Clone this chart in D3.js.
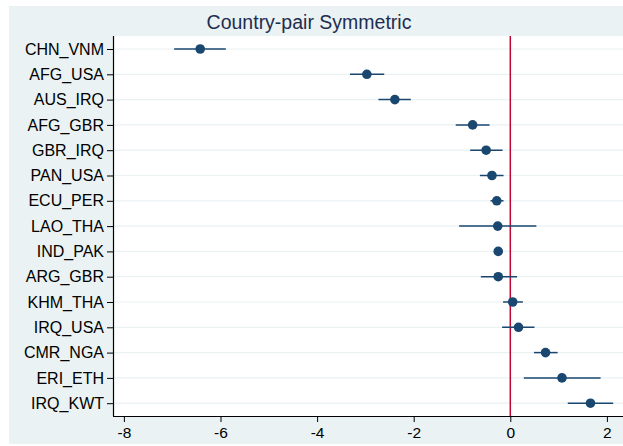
<!DOCTYPE html>
<html>
<head>
<meta charset="utf-8">
<script src="https://cdn.jsdelivr.net/npm/d3@7"></script>
<style>
  body { margin: 0; background: #fff; }
  svg { display: block; font-family: "Liberation Sans", Arial, sans-serif; }
</style>
</head>
<body>
<div class="chart"></div>
<script>
const pairs = ['CHN_VNM', 'AFG_USA', 'AUS_IRQ', 'AFG_GBR', 'GBR_IRQ', 'PAN_USA', 'ECU_PER',
  'LAO_THA', 'IND_PAK', 'ARG_GBR', 'KHM_THA', 'IRQ_USA', 'CMR_NGA', 'ERI_ETH', 'IRQ_KWT'];
const estimate = [-6.42, -2.97, -2.39, -0.78, -0.50, -0.38, -0.28, -0.26, -0.25, -0.25, 0.05, 0.17, 0.73, 1.07, 1.66];
const ciLow = [-6.96, -3.32, -2.73, -1.13, -0.83, -0.63, -0.41, -1.06, -0.33, -0.61, -0.15, -0.17, 0.49, 0.28, 1.19];
const ciHigh = [-5.89, -2.61, -2.06, -0.43, -0.16, -0.14, -0.14, 0.54, -0.18, 0.14, 0.26, 0.50, 0.98, 1.87, 2.13];
const xTicks = [-8, -6, -4, -2, 0, 2];

const W = 623, H = 446;
const margin = {top: 36, right: 0, bottom: 30, left: 113};
const w = W - margin.left - margin.right;
const h = H - margin.top - margin.bottom;

const rows = pairs.map((p, i) => ({pair: p, est: estimate[i], lo: ciLow[i], hi: ciHigh[i]}));

const svg = d3.select('.chart').append('svg')
  .attr('width', W)
  .attr('height', H);

// graph background
svg.append('rect')
  .attr('x', 9).attr('y', 6)
  .attr('width', W - 9).attr('height', 438)
  .attr('fill', '#eaf2f3');

svg.append('text')
  .attr('x', 309).attr('y', 29)
  .attr('text-anchor', 'middle')
  .attr('font-size', 19.5)
  .attr('fill', '#1e2d4f')
  .text('Country-pair Symmetric');

const g = svg.append('g')
  .attr('transform', `translate(${margin.left},${margin.top})`);

g.append('rect')
  .attr('width', w).attr('height', h)
  .attr('fill', '#fff');

const x = d3.scaleLinear()
  .domain([-8, 2])
  .range([510.3 - 8 * 48.3 - margin.left, 510.3 + 2 * 48.3 - margin.left]);

const y = d3.scalePoint()
  .domain(pairs)
  .range([13, 13 + 25.3 * 14]);

// grid lines
g.selectAll('.grid')
  .data(pairs)
  .enter().append('line')
    .attr('class', 'grid')
    .attr('x1', 0).attr('x2', w)
    .attr('y1', d => y(d)).attr('y2', d => y(d))
    .attr('stroke', '#eaf2f3')
    .attr('stroke-width', 1.2);

// zero line
g.append('line')
  .attr('x1', x(0)).attr('x2', x(0))
  .attr('y1', 0).attr('y2', h)
  .attr('stroke', '#c10534')
  .attr('stroke-width', 1.5);

// confidence intervals
g.selectAll('.ci')
  .data(rows)
  .enter().append('line')
    .attr('class', 'ci')
    .attr('x1', d => x(d.lo)).attr('x2', d => x(d.hi))
    .attr('y1', d => y(d.pair)).attr('y2', d => y(d.pair))
    .attr('stroke', '#1a476f')
    .attr('stroke-width', 1.5);

g.selectAll('.dot')
  .data(rows)
  .enter().append('circle')
    .attr('class', 'dot')
    .attr('cx', d => x(d.est))
    .attr('cy', d => y(d.pair))
    .attr('r', 4.8)
    .attr('fill', '#1a476f');

const yAxis = g.append('g')
  .call(d3.axisLeft(y).tickSize(6).tickPadding(3));

const xAxis = g.append('g')
  .attr('transform', `translate(0,${h})`)
  .call(d3.axisBottom(x).tickValues(xTicks).tickFormat(d3.format('d')).tickSize(6).tickPadding(5));

[yAxis, xAxis].forEach(a => {
  a.select('.domain').attr('stroke', '#000').attr('stroke-width', 1.2)
    .attr('d', a === yAxis ? `M0.5,0V${h}` : `M0,0.5H${w}`);
  a.selectAll('.tick line').attr('stroke', '#000');
  a.selectAll('.tick text')
    .attr('fill', '#000')
    .attr('font-family', '"Liberation Sans", Arial, sans-serif');
});
yAxis.selectAll('.tick text').attr('font-size', 16);
xAxis.selectAll('.tick text').attr('font-size', 15.5)
  .text(d => d < 0 ? '-' + Math.abs(d) : d);
</script>
</body>
</html>
